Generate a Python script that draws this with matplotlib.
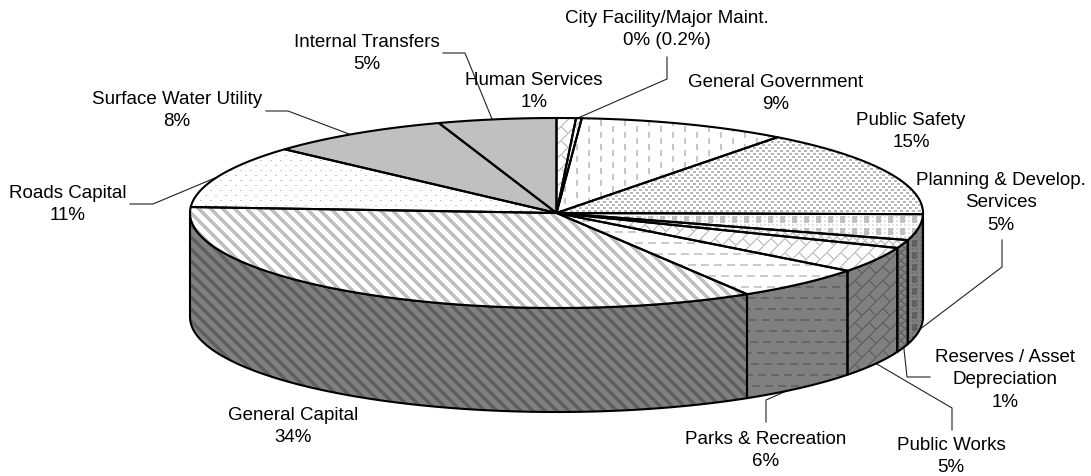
import numpy as np
import matplotlib
matplotlib.use("Agg")
import matplotlib.pyplot as plt
from matplotlib.patches import Polygon

plt.rcParams['font.family'] = ['Liberation Sans', 'DejaVu Sans']

names = ['Human Services', 'City Facility/Major Maint.', 'General Government', 'Public Safety',
         'Planning & Develop.\nServices', 'Reserves / Asset\nDepreciation', 'Public Works',
         'Parks & Recreation', 'General Capital', 'Roads Capital', 'Surface Water Utility',
         'Internal Transfers']
pct_labels = ['1%', '0% (0.2%)', '9%', '15%', '5%', '1%', '5%', '6%', '34%', '11%', '8%', '5%']
# slice shares as seen on the drawn pie (the 3d view skews them a bit)
shares = [0.85, 0.25, 9.2, 14.9, 4.4, 1.4, 4.4, 5.9, 34.7, 10.7, 8.1, 5.2]
patterns = ['brick', 'brick', 'vdash', 'dots', 'plaid', 'diamond', 'brick', 'hdash',
            'stripes', 'sparse', 'solid', 'solid']

label_xy = [(534, 79), (667, 17), (776, 81), (911, 119), (1001, 179), (1005, 356),
            (951, 444), (766, 438), (293, 414), (68, 192), (177, 98), (367, 41)]
leaders = [
    [(443, 53), (465, 53), (492, 119)],
    [(266, 111), (288, 111), (349, 134)],
    [(130, 204), (153, 204), (215, 178)],
    [(667, 57), (667, 79), (578, 118)],
    [(1002, 240), (1002, 267), (915, 333)],
    [(930, 377), (907, 377), (903, 340)],
    [(952, 430), (952, 408), (870, 360)],
    [(766, 422), (766, 400), (800, 385)],
]

W, H = 1091, 476
cx, cy, rx, ry = 556.5, 213, 366.5, 95
depth = 104


def make_texture(kind):
    y, x = np.indices((H, W))
    img = np.ones((H, W))
    if kind == 'solid':
        img[:] = 0.75
    elif kind == 'stripes':
        img[(x - y) % 12 < 5] = 0.75
    elif kind == 'vdash':
        col = x // 12
        img[(x % 12 < 2) & ((y + 6 * col) % 12 < 6)] = 0.78
    elif kind == 'dots':
        m = (x % 6 < 3) & (y % 6 < 2)
        m |= ((x + 3) % 6 < 3) & ((y + 3) % 6 < 2)
        img[m] = 0.72
    elif kind == 'plaid':
        img[(x % 4 < 2) & (y % 4 < 2)] = 0.88
        img[(x % 12 < 5) & (y % 12 < 7)] = 0.75
    elif kind == 'diamond':
        img[((x + y) % 8 < 2) | ((x - y) % 8 < 2)] = 0.78
    elif kind == 'brick':
        u, v = x + y, x - y
        row = u // 14
        img[(u % 14 < 2) | ((v + 14 * row) % 28 < 2)] = 0.78
    elif kind == 'hdash':
        img[(y % 11 < 2) & ((x + 6 * (y // 11)) % 13 < 8)] = 0.8
    elif kind == 'sparse':
        m = (x % 10 < 2) & (y % 10 < 1)
        m |= ((x + 5) % 10 < 2) & ((y + 5) % 10 < 1)
        img[m] = 0.78
    return img


def rim(t0, t1, n=120):
    t = np.radians(np.linspace(t0, t1, n))
    return np.column_stack([cx + rx * np.sin(t), cy - ry * np.cos(t)])


fig = plt.figure(figsize=(W / 100, H / 100), dpi=100)
ax = fig.add_axes([0, 0, 1, 1])
ax.axis('off')

for pts in leaders:
    pts = np.array(pts)
    ax.plot(pts[:, 0], pts[:, 1], color='#222222', lw=0.8, zorder=1)

edges = np.concatenate([[0], np.cumsum(shares)]) * 360 / sum(shares)

# side wall, only the front half of the pie shows it
for i, kind in enumerate(patterns):
    t0, t1 = max(edges[i], 90), min(edges[i + 1], 270)
    if t1 <= t0:
        continue
    top = rim(t0, t1)
    bottom = top[::-1] + [0, depth]
    wall = np.vstack([top, bottom])
    base = Polygon(wall, closed=True, fc='#808080', ec='none', zorder=2)
    ax.add_patch(base)
    im = ax.imshow(make_texture(kind) * 0.5, cmap='gray', vmin=0, vmax=1, extent=(0, W, H, 0),
                   interpolation='nearest', zorder=2.1)
    im.set_clip_path(base)
    ax.add_patch(Polygon(wall, closed=True, fc='none', ec='black', lw=1.5, zorder=2.2, joinstyle='round'))

# top face
for i, kind in enumerate(patterns):
    arc = rim(edges[i], edges[i + 1])
    poly = np.vstack([[cx, cy], arc])
    base = Polygon(poly, closed=True, fc='white', ec='none', zorder=3)
    ax.add_patch(base)
    im = ax.imshow(make_texture(kind), cmap='gray', vmin=0, vmax=1, extent=(0, W, H, 0),
                   interpolation='nearest', zorder=3.1)
    im.set_clip_path(base)
    ax.add_patch(Polygon(poly, closed=True, fc='none', ec='black', lw=1.5, zorder=3.2, joinstyle='round'))

for name, pct, (lx, ly) in zip(names, pct_labels, label_xy):
    ax.text(lx, ly - 7, name + '\n' + pct, ha='center', va='top', fontsize=13.5,
            linespacing=1.42, color='black', zorder=5)

ax.set_xlim(0, W)
ax.set_ylim(H, 0)
ax.set_aspect('auto')
fig.savefig('out.png', dpi=100, facecolor='white')
